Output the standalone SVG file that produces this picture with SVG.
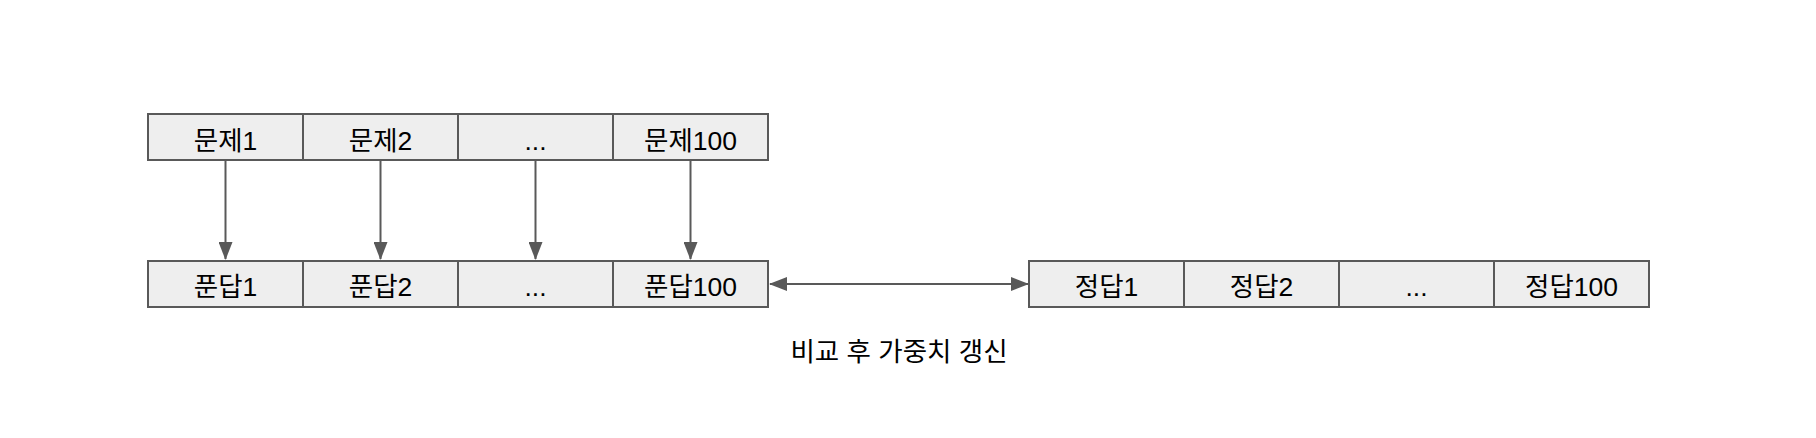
<svg xmlns="http://www.w3.org/2000/svg" width="1816" height="438" viewBox="0 0 1816 438">
<style>
.cell{fill:#eeeeee;stroke:#595959;stroke-width:2}
.lbl{font-family:"Liberation Sans","Noto Sans CJK KR",sans-serif;font-size:26.5px;fill:#000;text-anchor:middle}
.conn{stroke:#595959;stroke-width:2;fill:none}
</style>
<defs>
<marker id="ah" viewBox="0 0 18 14" refX="17" refY="7" markerWidth="18" markerHeight="14" markerUnits="userSpaceOnUse" orient="auto-start-reverse">
<path d="M0,0 L18,7 L0,14 Z" fill="#595959"/>
</marker>
</defs>
<rect width="1816" height="438" fill="#ffffff"/>
<g id="q1"><rect class="cell" x="148" y="114" width="155" height="46"/><text class="lbl" x="225.5" y="149.5">문제1</text></g>
<g id="q2"><rect class="cell" x="303" y="114" width="155" height="46"/><text class="lbl" x="380.5" y="149.5">문제2</text></g>
<g id="q3"><rect class="cell" x="458" y="114" width="155" height="46"/><text class="lbl" x="535.5" y="149.5">...</text></g>
<g id="q100"><rect class="cell" x="613" y="114" width="155" height="46"/><text class="lbl" x="690.5" y="149.5">문제100</text></g>
<g id="a1"><rect class="cell" x="148" y="261" width="155" height="46"/><text class="lbl" x="225.5" y="295.5">푼답1</text></g>
<g id="a2"><rect class="cell" x="303" y="261" width="155" height="46"/><text class="lbl" x="380.5" y="295.5">푼답2</text></g>
<g id="a3"><rect class="cell" x="458" y="261" width="155" height="46"/><text class="lbl" x="535.5" y="295.5">...</text></g>
<g id="a100"><rect class="cell" x="613" y="261" width="155" height="46"/><text class="lbl" x="690.5" y="295.5">푼답100</text></g>
<g id="c1"><rect class="cell" x="1029" y="261" width="155" height="46"/><text class="lbl" x="1106.5" y="295.5">정답1</text></g>
<g id="c2"><rect class="cell" x="1184" y="261" width="155" height="46"/><text class="lbl" x="1261.5" y="295.5">정답2</text></g>
<g id="c3"><rect class="cell" x="1339" y="261" width="155" height="46"/><text class="lbl" x="1416.5" y="295.5">...</text></g>
<g id="c100"><rect class="cell" x="1494" y="261" width="155" height="46"/><text class="lbl" x="1571.5" y="295.5">정답100</text></g>
<g id="connectors">
<line class="conn" x1="225.5" y1="160" x2="225.5" y2="259" marker-end="url(#ah)"/>
<line class="conn" x1="380.5" y1="160" x2="380.5" y2="259" marker-end="url(#ah)"/>
<line class="conn" x1="535.5" y1="160" x2="535.5" y2="259" marker-end="url(#ah)"/>
<line class="conn" x1="690.5" y1="160" x2="690.5" y2="259" marker-end="url(#ah)"/>
<line class="conn" x1="770" y1="284" x2="1028" y2="284" marker-start="url(#ah)" marker-end="url(#ah)"/>
</g>
<g id="note"><text class="lbl" x="899" y="360.5">비교 후 가중치 갱신</text></g>
</svg>
